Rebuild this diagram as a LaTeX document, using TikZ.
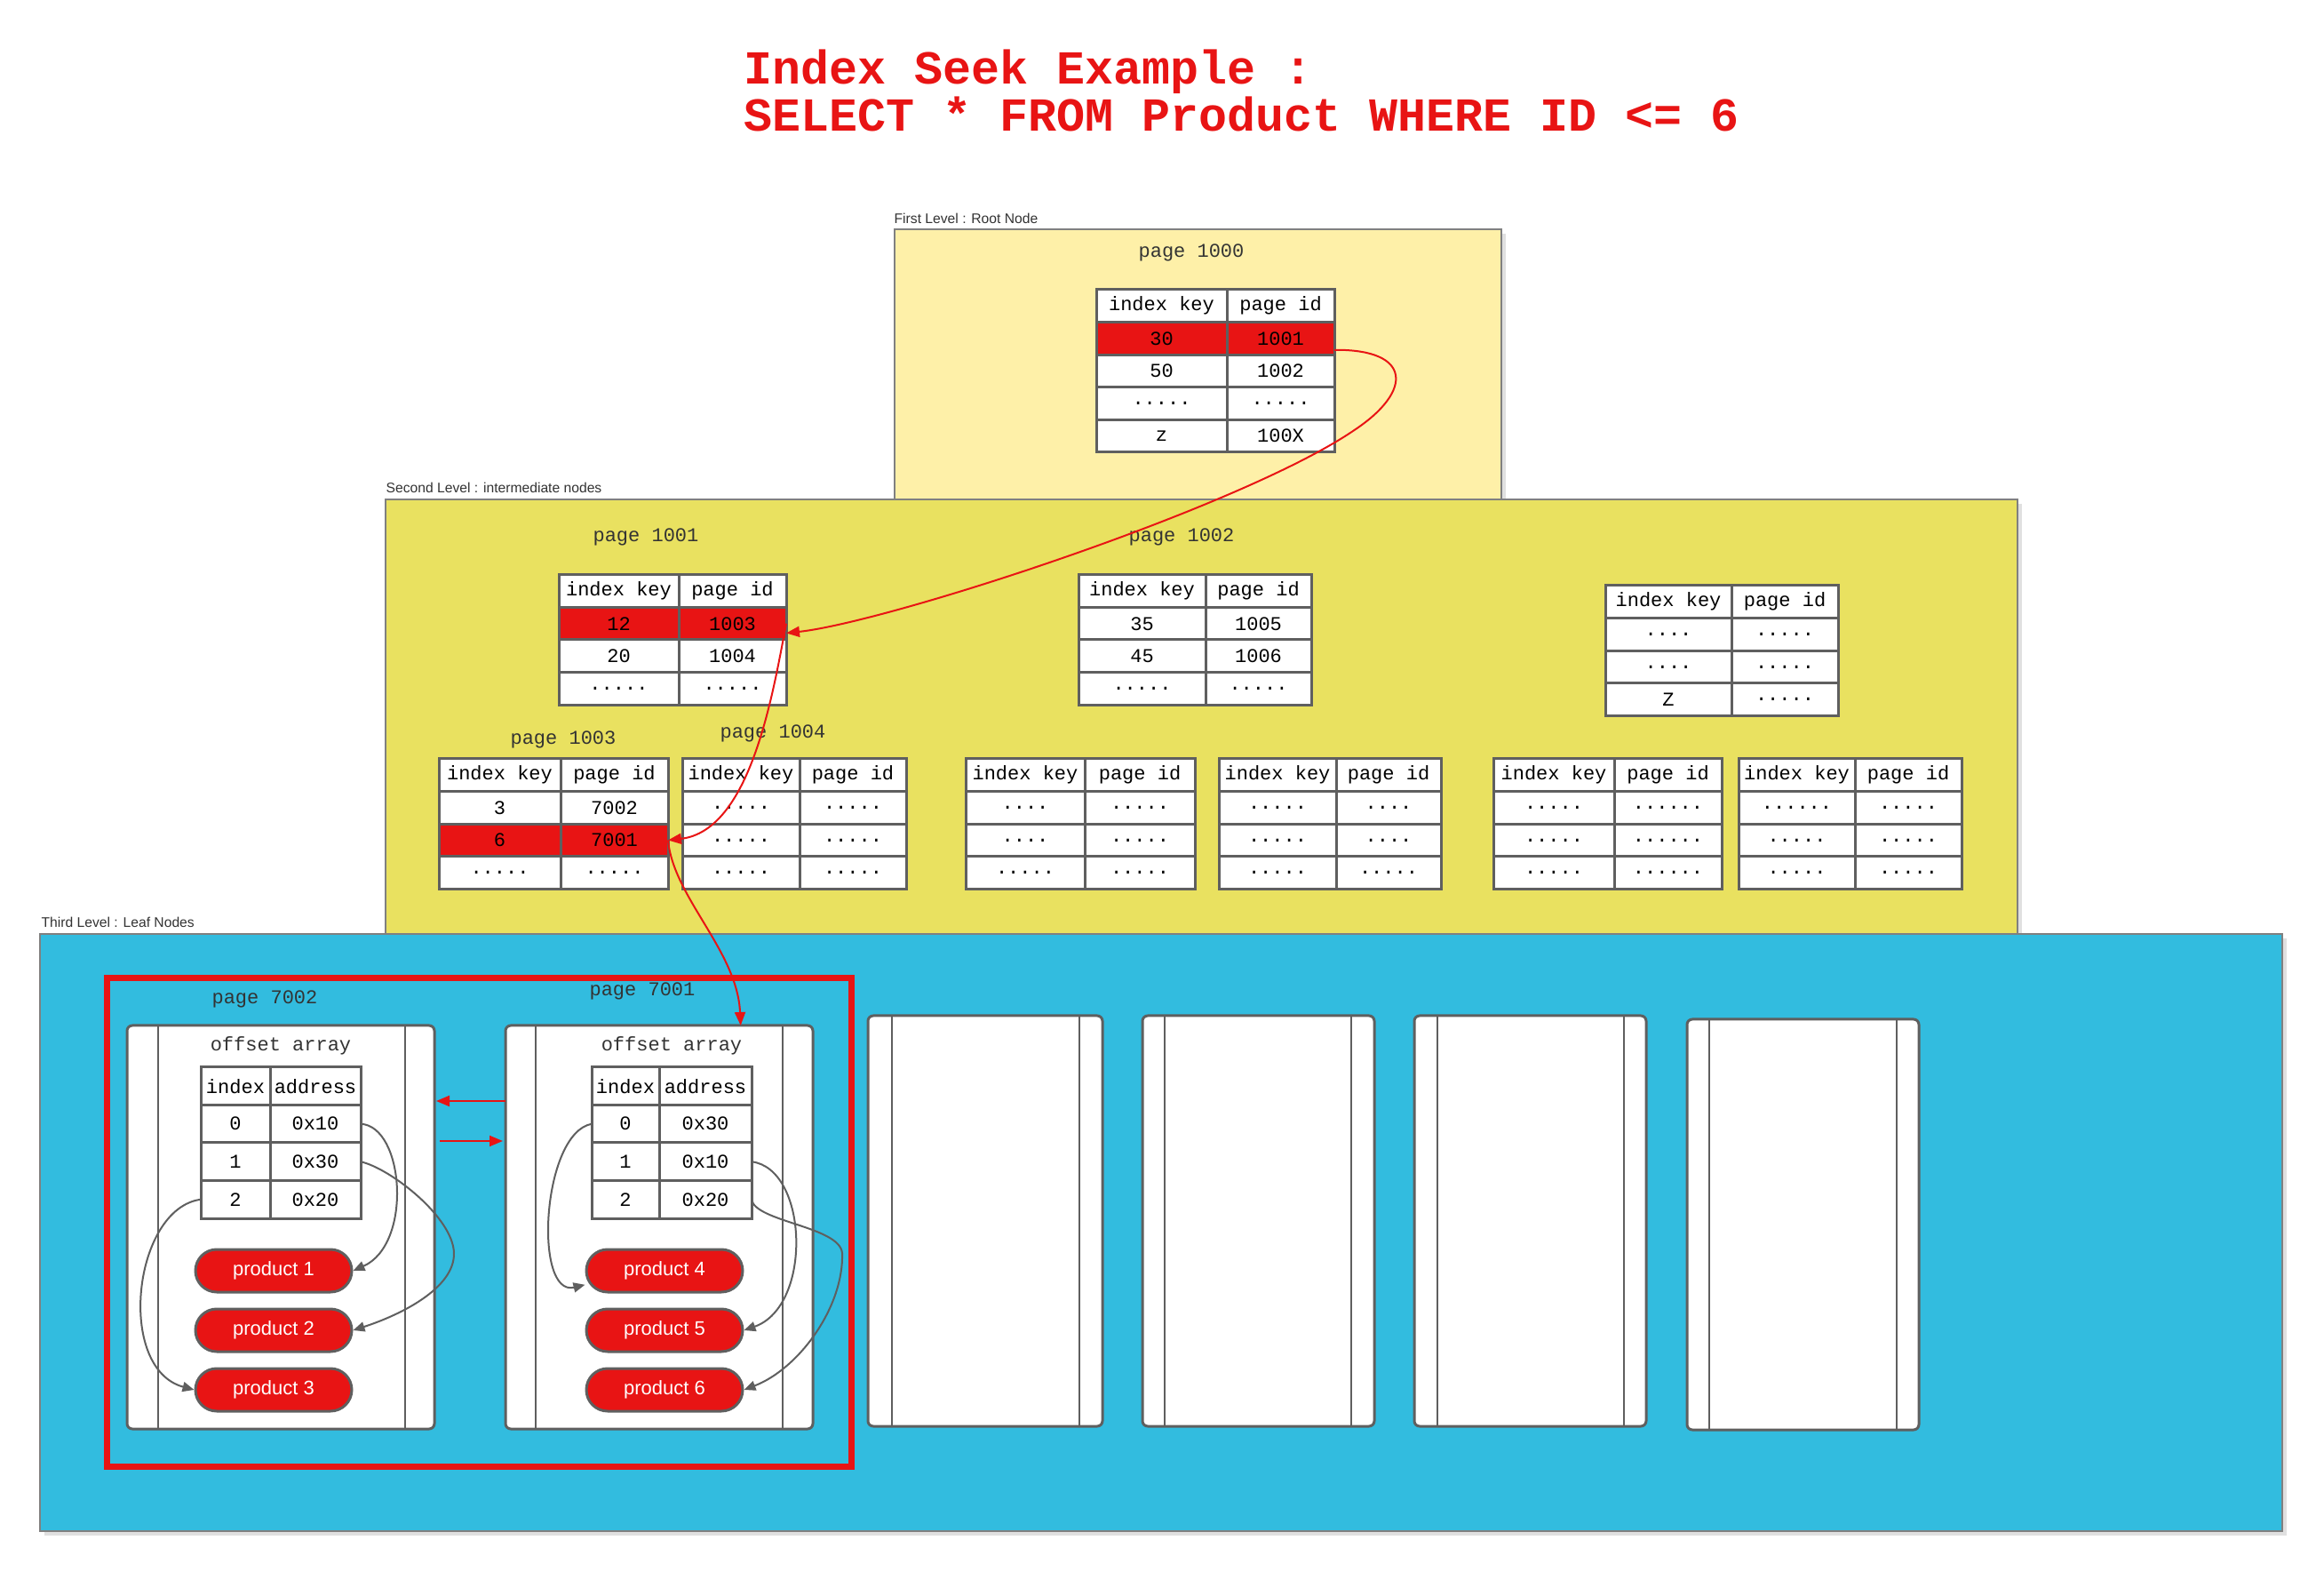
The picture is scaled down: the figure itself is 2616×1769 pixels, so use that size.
\documentclass[tikz,border=0pt]{standalone}
\usepackage{fontspec}
\setmainfont{Liberation Sans}
\newfontfamily\monofont{Liberation Mono}
\usetikzlibrary{arrows.meta}

\definecolor{rootyellow}{RGB}{254,240,168}
\definecolor{midyellow}{RGB}{233,225,96}
\definecolor{leafblue}{RGB}{50,188,223}
\definecolor{seekred}{RGB}{232,20,20}
\definecolor{linegray}{RGB}{95,95,95}
\definecolor{textgray}{RGB}{51,51,51}
\definecolor{shadowgray}{RGB}{224,224,224}

\def\pxu{0.3pt}

\tikzset{
  cell/.style={draw=linegray, line width=0.9pt, fill=white, inner sep=0pt, outer sep=0pt,
    minimum height=36.6*\pxu, font=\monofont\fontsize{6.6}{7.5}\selectfont, text=black},
  hit/.style={fill=seekred},
  idxcell/.style={cell, minimum height=42.5*\pxu},
  pagelabel/.style={font=\monofont\fontsize{6.6}{7.5}\selectfont, text=textgray, inner sep=0pt},
  levellabel/.style={font=\fontsize{4.7}{5.6}\selectfont, text=textgray, anchor=base west, inner sep=0pt},
  level/.style={draw=gray, line width=0.4pt},
  leaf/.style={draw=linegray, line width=0.9pt, fill=white, rounded corners=1.8pt, inner sep=0pt, outer sep=0pt},
  leafline/.style={draw=linegray, line width=0.6pt},
  product/.style={draw=linegray, line width=0.9pt, fill=seekred, rounded corners=7.2pt,
    minimum width=176*\pxu, minimum height=48*\pxu, inner sep=0pt,
    font=\fontsize{6.6}{7.5}\selectfont, text=white},
  seek/.style={draw=seekred, line width=0.6pt, -{Triangle[length=4.5pt,width=3.6pt]}},
  slot/.style={draw=linegray, line width=0.6pt, -{Triangle[length=3.9pt,width=3.3pt]}},
}

% one row of a two column table: name, x, y, width 1, text 1, width 2, text 2, style
\newcommand{\tabrow}[8]{%
  \node[#8, minimum width=#4*\pxu, anchor=north west] (#1-k) at (#2,#3) {#5};
  \node[#8, minimum width=#6*\pxu, anchor=north west] (#1-v) at (#1-k.north east) {#7};}

\begin{document}
\begin{tikzpicture}[x=0.3pt,y=0.3pt,yscale=-1,xscale=1]
  \useasboundingbox (0,0) rectangle (2616,1769);

  %Title
  \node[anchor=base west, inner sep=0pt, text=seekred, font=\monofont\bfseries\fontsize{16}{18}\selectfont] (title1) at (837,95) {Index Seek Example :};
  \node[anchor=base west, inner sep=0pt, text=seekred, font=\monofont\bfseries\fontsize{16}{18}\selectfont] (title2) at (837,148) {SELECT * FROM Product WHERE ID <= 6};

  %Levels
  \fill[shadowgray] (1012,263) rectangle (1695,570);
  \draw[level, fill=rootyellow] (1007,258) rectangle (1690,570);
  \fill[shadowgray] (439,567) rectangle (2276,1056);
  \draw[level, fill=midyellow] (434,562) rectangle (2271,1051);
  \fill[shadowgray] (50,1056) rectangle (2574,1728);
  \draw[level, fill=leafblue] (45,1051) rectangle (2569,1723);
  \node[levellabel] (lvl1) at (1006,252) {First Level : Root Node};
  \node[levellabel] (lvl2) at (434,555) {Second Level : intermediate nodes};
  \node[levellabel] (lvl3) at (46,1044) {Third Level : Leaf Nodes};

  %Root page 1000
  \node[pagelabel] (lbl1000) at (1341,284) {page 1000};
  \tabrow{p1000-0}{1234}{326}{147}{index key}{121}{page id}{cell}
  \tabrow{p1000-1}{1234}{362.6}{147}{30}{121}{1001}{cell,hit}
  \tabrow{p1000-2}{1234}{399.2}{147}{50}{121}{1002}{cell}
  \tabrow{p1000-3}{1234}{435.8}{147}{.....}{121}{.....}{cell}
  \tabrow{p1000-4}{1234}{472.4}{147}{z}{121}{100X}{cell}

  %Intermediate pages 1001, 1002
  \node[pagelabel] (lbl1001) at (727,604) {page 1001};
  \tabrow{p1001-0}{629}{647}{135}{index key}{121}{page id}{cell}
  \tabrow{p1001-1}{629}{683.5}{135}{12}{121}{1003}{cell,hit}
  \tabrow{p1001-2}{629}{720}{135}{20}{121}{1004}{cell}
  \tabrow{p1001-3}{629}{756.5}{135}{.....}{121}{.....}{cell}
  \node[pagelabel] (lbl1002) at (1330,604) {page 1002};
  \tabrow{p1002-0}{1214}{647}{143}{index key}{119}{page id}{cell}
  \tabrow{p1002-1}{1214}{683.5}{143}{35}{119}{1005}{cell}
  \tabrow{p1002-2}{1214}{720}{143}{45}{119}{1006}{cell}
  \tabrow{p1002-3}{1214}{756.5}{143}{.....}{119}{.....}{cell}
  \tabrow{pz-0}{1807}{659}{142}{index key}{120}{page id}{cell}
  \tabrow{pz-1}{1807}{695.6}{142}{....}{120}{.....}{cell}
  \tabrow{pz-2}{1807}{732.2}{142}{....}{120}{.....}{cell}
  \tabrow{pz-3}{1807}{768.8}{142}{Z}{120}{.....}{cell}

  %Intermediate pages 1003, 1004 and the others
  \node[pagelabel] (lbl1003) at (634,832) {page 1003};
  \tabrow{p1003-0}{494}{854}{137}{index key}{121}{page id}{cell}
  \tabrow{p1003-1}{494}{890.6}{137}{3}{121}{7002}{cell}
  \tabrow{p1003-2}{494}{927.2}{137}{6}{121}{7001}{cell,hit}
  \tabrow{p1003-3}{494}{963.8}{137}{.....}{121}{.....}{cell}
  \node[pagelabel] (lbl1004) at (870,825) {page 1004};
  \tabrow{p1004-0}{768}{854}{132}{index key}{120}{page id}{cell}
  \tabrow{p1004-1}{768}{890.6}{132}{.....}{120}{.....}{cell}
  \tabrow{p1004-2}{768}{927.2}{132}{.....}{120}{.....}{cell}
  \tabrow{p1004-3}{768}{963.8}{132}{.....}{120}{.....}{cell}
  \tabrow{pa-0}{1087}{854}{134}{index key}{124}{page id}{cell}
  \tabrow{pa-1}{1087}{890.6}{134}{....}{124}{.....}{cell}
  \tabrow{pa-2}{1087}{927.2}{134}{....}{124}{.....}{cell}
  \tabrow{pa-3}{1087}{963.8}{134}{.....}{124}{.....}{cell}
  \tabrow{pb-0}{1372}{854}{132}{index key}{118}{page id}{cell}
  \tabrow{pb-1}{1372}{890.6}{132}{.....}{118}{....}{cell}
  \tabrow{pb-2}{1372}{927.2}{132}{.....}{118}{....}{cell}
  \tabrow{pb-3}{1372}{963.8}{132}{.....}{118}{.....}{cell}
  \tabrow{pc-0}{1681}{854}{136}{index key}{121}{page id}{cell}
  \tabrow{pc-1}{1681}{890.6}{136}{.....}{121}{......}{cell}
  \tabrow{pc-2}{1681}{927.2}{136}{.....}{121}{......}{cell}
  \tabrow{pc-3}{1681}{963.8}{136}{.....}{121}{......}{cell}
  \tabrow{pd-0}{1957}{854}{131}{index key}{120}{page id}{cell}
  \tabrow{pd-1}{1957}{890.6}{131}{......}{120}{.....}{cell}
  \tabrow{pd-2}{1957}{927.2}{131}{.....}{120}{.....}{cell}
  \tabrow{pd-3}{1957}{963.8}{131}{.....}{120}{.....}{cell}

  %Leaf pages
  \node[leaf, minimum width=346*\pxu, minimum height=454*\pxu, anchor=north west] (p7002) at (143,1154) {};
  \draw[leafline] (178,1155) -- (178,1607) (456,1155) -- (456,1607);
  \node[leaf, minimum width=346*\pxu, minimum height=454*\pxu, anchor=north west] (p7001) at (569,1154) {};
  \draw[leafline] (603,1155) -- (603,1607) (881,1155) -- (881,1607);
  \node[leaf, minimum width=264*\pxu, minimum height=462*\pxu, anchor=north west] (leaf1) at (977,1143) {};
  \draw[leafline] (1004,1144) -- (1004,1604) (1215,1144) -- (1215,1604);
  \node[leaf, minimum width=261*\pxu, minimum height=462*\pxu, anchor=north west] (leaf2) at (1286,1143) {};
  \draw[leafline] (1311,1144) -- (1311,1604) (1521,1144) -- (1521,1604);
  \node[leaf, minimum width=261*\pxu, minimum height=462*\pxu, anchor=north west] (leaf3) at (1592,1143) {};
  \draw[leafline] (1618,1144) -- (1618,1604) (1828,1144) -- (1828,1604);
  \node[leaf, minimum width=261*\pxu, minimum height=462*\pxu, anchor=north west] (leaf4) at (1899,1147) {};
  \draw[leafline] (1924,1148) -- (1924,1608) (2135,1148) -- (2135,1608);

  %Page 7002
  \node[pagelabel] (lbl7002) at (298,1124) {page 7002};
  \node[pagelabel] (arr7002) at (316,1177) {offset array};
  \tabrow{off7002-0}{226}{1201}{78}{index}{102}{address}{idxcell}
  \tabrow{off7002-1}{226}{1243.5}{78}{0}{102}{0x10}{idxcell}
  \tabrow{off7002-2}{226}{1286}{78}{1}{102}{0x30}{idxcell}
  \tabrow{off7002-3}{226}{1328.5}{78}{2}{102}{0x20}{idxcell}
  \node[product] (prod1) at (308,1430) {product 1};
  \node[product] (prod2) at (308,1497) {product 2};
  \node[product] (prod3) at (308,1564) {product 3};

  %Page 7001
  \node[pagelabel] (lbl7001) at (723,1115) {page 7001};
  \node[pagelabel] (arr7001) at (756,1177) {offset array};
  \tabrow{off7001-0}{666}{1201}{76}{index}{104}{address}{idxcell}
  \tabrow{off7001-1}{666}{1243.5}{76}{0}{104}{0x30}{idxcell}
  \tabrow{off7001-2}{666}{1286}{76}{1}{104}{0x10}{idxcell}
  \tabrow{off7001-3}{666}{1328.5}{76}{2}{104}{0x20}{idxcell}
  \node[product] (prod4) at (748,1430) {product 4};
  \node[product] (prod5) at (748,1497) {product 5};
  \node[product] (prod6) at (748,1564) {product 6};

  %Selected range
  \draw[seekred, line width=2.1pt] (120,1101) rectangle (958,1650);

  %Seek path
  \draw[seek] (p1000-1-v.-12) .. controls (1590,393) and (1590,440) .. (1526,483)
    .. controls (1400,570) and (1000,700) .. (p1001-1-v.-10);
  \draw[seek] (p1001-1-v.east) .. controls (870,780) and (845,935) .. (p1003-2-v.east);
  \draw[seek] (p1003-2-v.east) .. controls (758,1010) and (830,1070) .. (p7001.68);
  \draw[seek, shorten >=0.6pt] (p7001.west |- 0,1239) -- (p7002.east |- 0,1239);
  \draw[seek, shorten <=1.8pt, shorten >=0.9pt] (p7002.east |- 0,1284) -- (p7001.west |- 0,1284);

  %Offset array slots
  \draw[slot] (off7002-1-v.east) .. controls (455,1267) and (465,1400) .. (prod1.east);
  \draw[slot] (off7002-2-v.east) .. controls (440,1315) and (510,1370) .. (511,1410)
    .. controls (512,1450) and (450,1480) .. (prod2.east);
  \draw[slot] (off7002-3-k.west) .. controls (150,1360) and (130,1540) .. (prod3.west);
  \draw[slot] (off7001-1-k.west) .. controls (610,1275) and (600,1460) .. (prod4.190);
  \draw[slot] (off7001-2-v.east) .. controls (910,1315) and (915,1470) .. (prod5.east);
  \draw[slot] (off7001-3-v.east) .. controls (850,1375) and (945,1380) .. (948,1410)
    .. controls (950,1470) and (900,1540) .. (prod6.east);
\end{tikzpicture}
\end{document}
